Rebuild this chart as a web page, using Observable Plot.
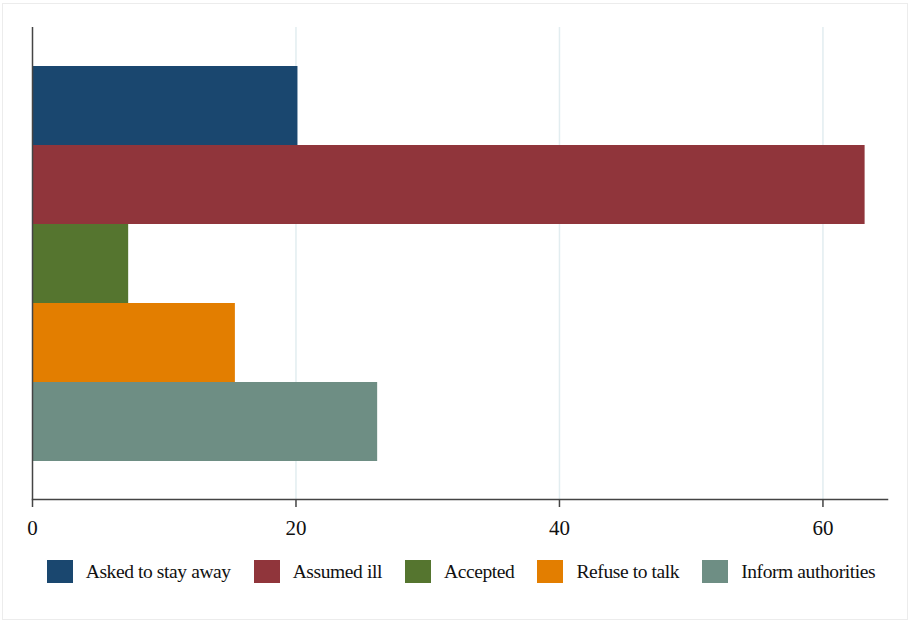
<!DOCTYPE html>
<html>
<head>
<meta charset="utf-8">
<script src="https://cdn.jsdelivr.net/npm/d3@7"></script>
<script src="https://cdn.jsdelivr.net/npm/@observablehq/plot@0.6"></script>
<style>
  html, body { margin: 0; padding: 0; background: #fff; }
  #wrap { position: relative; width: 912px; height: 624px; overflow: hidden; font-family: "Liberation Serif", serif; }
  #border { position: absolute; left: 2px; top: 3px; width: 906px; height: 617px; border: 1px solid #ececec; box-sizing: border-box; }
  #chart { position: absolute; left: 0; top: 0; }
  #legend { position: absolute; left: 0; top: 560px; width: 912px; display: flex; justify-content: center; align-items: center; padding-left: 10px; box-sizing: border-box; }
  .item { display: flex; align-items: center; margin: 0 11.5px; }
  .sw { width: 26px; height: 23px; margin-right: 13px; }
  .lab { font-family: "Liberation Serif", serif; font-size: 19.5px; letter-spacing: -0.4px; color: #111; white-space: nowrap; }
  #chart svg text { font-family: "Liberation Serif", serif; }
</style>
</head>
<body>
<div id="wrap">
  <div id="border"></div>
  <div id="chart"></div>
  <div id="legend"></div>
</div>
<script>
const categories = ["Asked to stay away", "Assumed ill", "Accepted", "Refuse to talk", "Inform authorities"];
const values = [20.15, 63.2, 7.3, 15.4, 26.2];
const colors = ["#1a476f", "#90353b", "#55752f", "#e37e00", "#6e8e84"];
const xTicks = [0, 20, 40, 60];
const gridTicks = [20, 40, 60];

const data = categories.map((c, i) => ({category: c, value: values[i]}));

const plot = Plot.plot({
  width: 912,
  height: 545,
  marginTop: 27,
  marginBottom: 46,
  marginLeft: 32,
  marginRight: 25,
  style: {fontFamily: "Liberation Serif, serif", background: "transparent"},
  x: {domain: [0, 64.9], ticks: xTicks},
  y: {domain: categories, type: "band", paddingInner: 0, paddingOuter: 0.48, axis: null},
  color: {domain: categories, range: colors},
  marks: [
    Plot.ruleX(gridTicks, {stroke: "#e2edf0", strokeWidth: 1.5}),
    Plot.barX(data, {y: "category", x: "value", fill: "category"}),
    Plot.ruleX([0], {stroke: "#444", strokeWidth: 1.5}),
    Plot.frame({anchor: "bottom", stroke: "#444", strokeWidth: 1.5}),
    Plot.axisX({ticks: xTicks, tickSize: 8, tickPadding: 13, fontSize: 21, stroke: "#444", strokeWidth: 1.5, fill: "#111", label: null, tickFormat: d => String(d)})
  ]
});
document.getElementById("chart").appendChild(plot);

const legend = document.getElementById("legend");
categories.forEach((c, i) => {
  const it = document.createElement("div");
  it.className = "item";
  const sw = document.createElement("div");
  sw.className = "sw";
  sw.style.background = colors[i];
  const lab = document.createElement("span");
  lab.className = "lab";
  lab.textContent = c;
  it.appendChild(sw);
  it.appendChild(lab);
  legend.appendChild(it);
});
</script>
</body>
</html>
